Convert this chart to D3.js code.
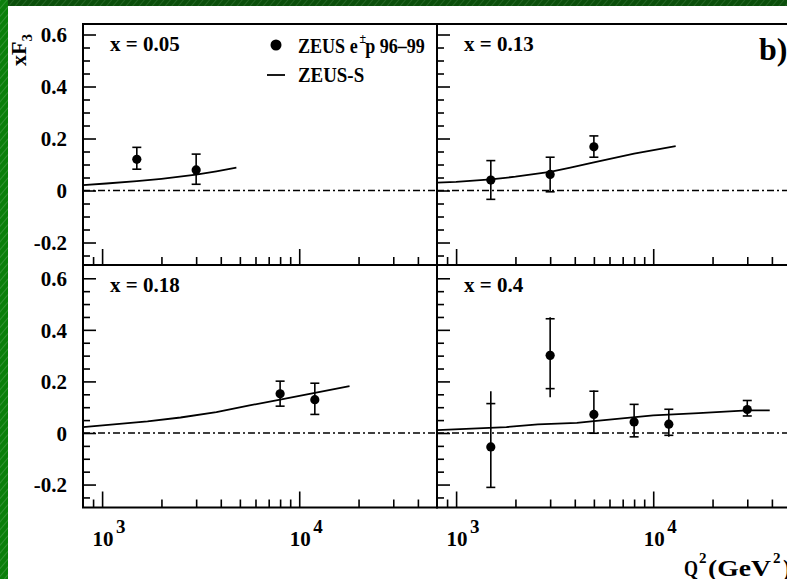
<!DOCTYPE html>
<html>
<head>
<meta charset="utf-8">
<script src="https://d3js.org/d3.v7.min.js"></script>
<style>
  body { margin: 0; background: #fff; overflow: hidden; }
  text { font-family: "Liberation Serif", "Times New Roman", serif; font-weight: bold; fill: #000; }
</style>
</head>
<body>
<script>
// xF3 vs Q2, four x bins
var w = 787;
var h = 579;

var panelLabels = ["x = 0.05", "x = 0.13", "x = 0.18", "x = 0.4"];

// ZEUS e+-p 96-99 data points
var ptQ2 = [[1500, 3000], [1500, 3000, 5000], [8000, 12000], [1500, 3000, 5000, 8000, 12000, 30000]];
var ptVal = [[0.120, 0.079], [0.040, 0.062, 0.168], [0.152, 0.129], [-0.054, 0.301, 0.072, 0.043, 0.034, 0.091]];
// inner error (with caps)
var capHi = [[0.166, 0.140], [0.115, 0.128, 0.210], [0.201, 0.193], [0.114, 0.443, 0.162, 0.111, 0.092, 0.126]];
var capLo = [[0.082, 0.024], [-0.034, -0.005, 0.128], [0.104, 0.072], [-0.211, 0.172, -0.001, -0.015, -0.009, 0.066]];
// total error
var barHi = [[0.166, 0.140], [0.115, 0.128, 0.210], [0.201, 0.193], [0.162, 0.449, 0.165, 0.111, 0.092, 0.126]];
var barLo = [[0.082, 0.024], [-0.034, -0.005, 0.128], [0.104, 0.072], [-0.211, 0.139, -0.001, -0.015, -0.015, 0.066]];

// ZEUS-S fit curves
var fitQ2 = [
  [800, 1050, 1500, 2000, 2600, 3000, 3800, 4800],
  [800, 1000, 1500, 2000, 3000, 3800, 5000, 8000, 13000],
  [800, 1700, 2500, 3800, 5600, 8000, 12000, 18000],
  [800, 1200, 1800, 2600, 4100, 5000, 10000, 17000, 30000, 39000]
];
var fitVal = [
  [0.021, 0.027, 0.036, 0.045, 0.055, 0.061, 0.074, 0.088],
  [0.030, 0.033, 0.043, 0.053, 0.072, 0.088, 0.108, 0.142, 0.171],
  [0.023, 0.045, 0.060, 0.081, 0.107, 0.129, 0.156, 0.182],
  [0.011, 0.017, 0.023, 0.033, 0.039, 0.046, 0.068, 0.077, 0.088, 0.088]
];

// axis ticks
var yMajor = [-0.2, 0, 0.2, 0.4, 0.6];
var yMinor = [-0.25, -0.15, -0.1, -0.05, 0.05, 0.1, 0.15, 0.25, 0.3, 0.35, 0.45, 0.5, 0.55];
var xMajor = [1000, 10000];
var xMajorExp = ["3", "4"];
var xMinor = [900, 2000, 3000, 4000, 5000, 6000, 7000, 8000, 9000, 20000, 30000, 40000];

var svg = d3.select("body")
  .append("svg")
  .attr("width", w)
  .attr("height", h);

// green slide border
var defs = svg.append("defs");
function stripes(id, base, line) {
  var p = defs.append("pattern")
    .attr("id", id)
    .attr("width", 5).attr("height", 5)
    .attr("patternUnits", "userSpaceOnUse")
    .attr("patternTransform", "rotate(40)");
  p.append("rect").attr("width", 5).attr("height", 5).attr("fill", base);
  p.append("line").attr("x1", 0).attr("y1", 0).attr("x2", 0).attr("y2", 5)
    .attr("stroke", line).attr("stroke-width", 1);
}
stripes("gTop", "#0b4f0b", "#3d7a3d");
stripes("gLeft", "#0a7f0a", "#5aa55a");
svg.append("rect").attr("width", w).attr("height", h).attr("fill", "#fff");
svg.append("rect").attr("x", 0).attr("y", 0).attr("width", w).attr("height", 6).attr("fill", "url(#gTop)");
svg.append("rect").attr("x", 0).attr("y", 0).attr("width", 8).attr("height", h).attr("fill", "url(#gLeft)");

var pw = 354;
var colX = [83, 437, 83, 437];
var rowTop = [24, 24, 265, 265];
var rowBot = [265, 265, 507.5, 507.5];
var yDom = [[-0.2865, 0.6404], [-0.2865, 0.6404], [-0.289, 0.6515], [-0.289, 0.6515]];

function fmt(d) { return d === 0 ? "0" : String(+d.toFixed(1)); }

for (var i = 0; i < 4; i++) {
  var x = d3.scaleLog().domain([800, 50000]).range([colX[i], colX[i] + pw]);
  var y = d3.scaleLinear().domain(yDom[i]).range([rowBot[i], rowTop[i]]);
  var g = svg.append("g");

  // y ticks (inward)
  var yAx = d3.axisLeft(y).tickValues(yMajor).tickSize(-13).tickPadding(16)
    .tickFormat(i % 2 === 0 ? fmt : "");
  var ya = g.append("g").attr("transform", "translate(" + colX[i] + ",0)").call(yAx);
  ya.selectAll("text").style("font-size", "21px").attr("dy", "0.35em");
  var ya2 = g.append("g").attr("transform", "translate(" + colX[i] + ",0)")
    .call(d3.axisLeft(y).tickValues(yMinor).tickSize(-7).tickFormat(""));

  // x ticks (inward)
  var xa = g.append("g").attr("transform", "translate(0," + rowBot[i] + ")")
    .call(d3.axisBottom(x).tickValues(xMajor).tickSize(-16).tickFormat(""));
  var xa2 = g.append("g").attr("transform", "translate(0," + rowBot[i] + ")")
    .call(d3.axisBottom(x).tickValues(xMinor).tickSize(-8).tickFormat(""));

  [ya, ya2, xa, xa2].forEach(function(a) {
    a.select(".domain").remove();
    a.selectAll("line").attr("stroke", "#000").attr("stroke-width", 1.6);
  });

  // frame
  g.append("rect")
    .attr("x", colX[i]).attr("y", rowTop[i])
    .attr("width", pw).attr("height", rowBot[i] - rowTop[i])
    .attr("fill", "none").attr("stroke", "#000").attr("stroke-width", 2);

  // zero line
  g.append("line")
    .attr("x1", colX[i]).attr("x2", colX[i] + pw)
    .attr("y1", y(0)).attr("y2", y(0))
    .attr("stroke", "#000").attr("stroke-width", 1.5)
    .attr("stroke-dasharray", "7,3,2,3");

  // ZEUS-S curve
  var fit = fitQ2[i].map(function(q, k) { return [q, fitVal[i][k]]; });
  g.append("path")
    .datum(fit)
    .attr("fill", "none").attr("stroke", "#000").attr("stroke-width", 1.8)
    .attr("d", d3.line().x(function(d) { return x(d[0]); }).y(function(d) { return y(d[1]); }));

  // data with error bars
  var pts = ptQ2[i].map(function(q, k) {
    return { q: q, v: ptVal[i][k], ch: capHi[i][k], cl: capLo[i][k], bh: barHi[i][k], bl: barLo[i][k] };
  });
  var pg = g.selectAll("g.pt").data(pts).enter().append("g").attr("class", "pt");
  pg.append("line")
    .attr("x1", function(d) { return x(d.q); }).attr("x2", function(d) { return x(d.q); })
    .attr("y1", function(d) { return y(d.bl); }).attr("y2", function(d) { return y(d.bh); })
    .attr("stroke", "#000").attr("stroke-width", 1.6);
  ["ch", "cl"].forEach(function(key) {
    pg.append("line")
      .attr("x1", function(d) { return x(d.q) - 4.5; }).attr("x2", function(d) { return x(d.q) + 4.5; })
      .attr("y1", function(d) { return y(d[key]); }).attr("y2", function(d) { return y(d[key]); })
      .attr("stroke", "#000").attr("stroke-width", 1.6);
  });
  pg.append("circle")
    .attr("cx", function(d) { return x(d.q); })
    .attr("cy", function(d) { return y(d.v); })
    .attr("r", 4.6)
    .attr("fill", "#000");

  // bin label
  g.append("text")
    .attr("x", colX[i] + 27).attr("y", rowTop[i] + 27)
    .style("font-size", "21px")
    .text(panelLabels[i]);

  // x labels 10^n on bottom row
  if (i >= 2) {
    xMajor.forEach(function(v, k) {
      g.append("text").attr("x", x(v) + 1).attr("y", 545.7)
        .attr("text-anchor", "middle").style("font-size", "21px").text("10");
      g.append("text").attr("x", x(v) + 14).attr("y", 533)
        .style("font-size", "19px").text(xMajorExp[k]);
    });
  }
}

// legend
svg.append("circle").attr("cx", 276).attr("cy", 45).attr("r", 5.5).attr("fill", "#000");
var lt = svg.append("text").attr("transform", "translate(298,52.7) scale(0.86,1)").style("font-size", "21px");
lt.append("tspan").text("ZEUS e");
lt.append("tspan").attr("dx", 2).attr("dy", -10).style("font-size", "14px").text("\u00b1");
lt.append("tspan").attr("dy", 10).attr("dx", -1).text("p 96\u201399");
svg.append("line").attr("x1", 267).attr("x2", 285).attr("y1", 75).attr("y2", 75)
  .attr("stroke", "#000").attr("stroke-width", 1.8);
svg.append("text").attr("transform", "translate(298,81.7) scale(0.9,1)").style("font-size", "21px").text("ZEUS-S");

svg.append("text").attr("x", 759).attr("y", 60).style("font-size", "32px").text("b)");

// axis titles
var yt = svg.append("text").attr("transform", "translate(26,66) rotate(-90)").style("font-size", "22px");
yt.append("tspan").text("xF");
yt.append("tspan").attr("dy", 6).style("font-size", "15px").text("3");

svg.append("text").attr("x", 684).attr("y", 576).style("font-size", "24px")
  .attr("textLength", 14).attr("lengthAdjust", "spacingAndGlyphs").text("Q");
svg.append("text").attr("x", 699).attr("y", 563).style("font-size", "15px").text("2");
svg.append("text").attr("x", 708).attr("y", 576).style("font-size", "24px")
  .attr("textLength", 63).attr("lengthAdjust", "spacingAndGlyphs").text("(GeV");
svg.append("text").attr("x", 773).attr("y", 563).style("font-size", "15px").text("2");
svg.append("text").attr("x", 783).attr("y", 576).style("font-size", "24px").text(")");
</script>
</body>
</html>
